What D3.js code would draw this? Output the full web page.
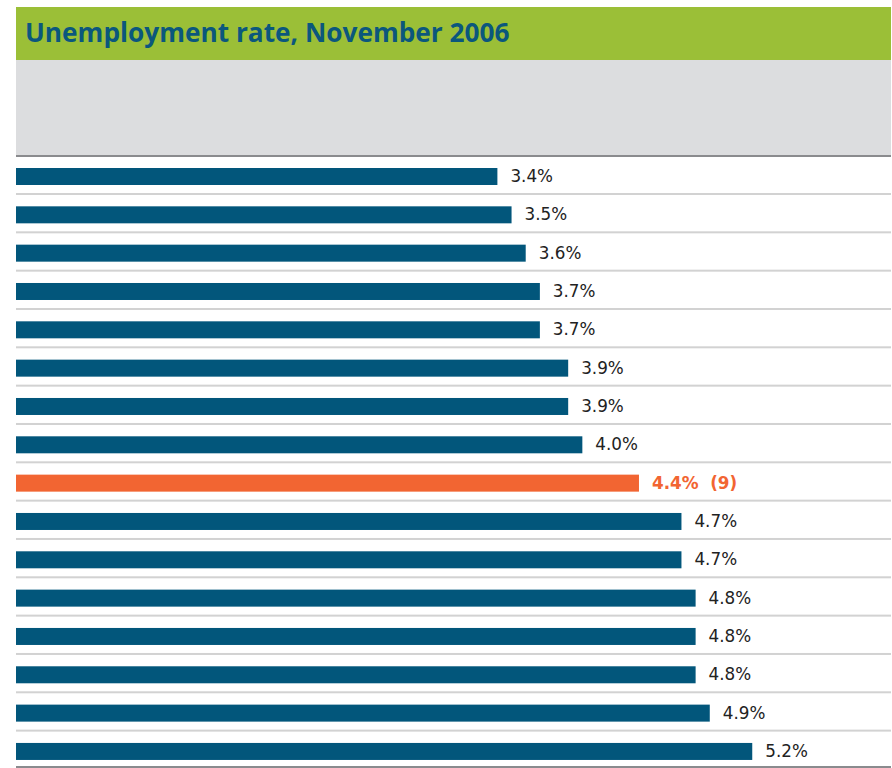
<!DOCTYPE html>
<html>
<head>
<meta charset="utf-8">
<script src="https://cdn.jsdelivr.net/npm/d3@7"></script>
<style>
  html, body { margin: 0; padding: 0; background: #ffffff; }
  svg { display: block; }
</style>
</head>
<body>
<svg id="chart" width="892" height="768"></svg>
<script>
// Unemployment rate by area, November 2006 (sorted ascending)
const title = "Unemployment rate, November 2006";
const rates = [3.4, 3.5, 3.6, 3.7, 3.7, 3.9, 3.9, 4.0, 4.4, 4.7, 4.7, 4.8, 4.8, 4.8, 4.9, 5.2];
const ranks = [1, 2, 3, 4, 5, 6, 7, 8, 9, 10, 11, 12, 13, 14, 15, 16];
const highlightRank = 9;

const plotLeft = 16, plotRight = 891;
const plotTop = 157, rowStep = 38.33;

const svg = d3.select("#chart");

// Header band and grey key area
svg.append("rect").attr("x", plotLeft).attr("y", 7).attr("width", plotRight - plotLeft).attr("height", 53).attr("fill", "#9bbf37");
svg.append("rect").attr("x", plotLeft).attr("y", 60).attr("width", plotRight - plotLeft).attr("height", 95).attr("fill", "#dcdddf");
svg.append("rect").attr("x", plotLeft).attr("y", 155).attr("width", plotRight - plotLeft).attr("height", 2).attr("fill", "#8a8b8e");

const titleText = svg.append("text")
  .attr("x", 25).attr("y", 42)
  .attr("font-family", "'Open Sans', sans-serif")
  .attr("font-weight", 700)
  .attr("font-size", 26)
  .attr("fill", "#0b577d")
  .text(title);
// fit title to its intended width
const tw = titleText.node().getComputedTextLength();
titleText.attr("font-size", 26 * 485 / tw);

const x = d3.scaleLinear().domain([0, 6.18]).range([plotLeft, plotRight]);
const y = d3.scaleBand().domain(ranks).range([plotTop, plotTop + rowStep * ranks.length]);
const last = ranks[ranks.length - 1];

const rows = svg.append("g").selectAll("g").data(ranks).join("g")
  .attr("transform", d => `translate(0,${y(d)})`);

// light separator under each row; the last row closes with a dark rule
rows.append("rect")
  .attr("x", plotLeft).attr("width", plotRight - plotLeft)
  .attr("y", d => d === last ? 766 - y(d) : 36)
  .attr("height", 2)
  .attr("fill", d => d === last ? "#8a8b8e" : "#d2d2d2");

rows.append("rect")
  .attr("x", plotLeft)
  .attr("y", 11)
  .attr("height", 17)
  .attr("width", (d, i) => x(rates[i]) - plotLeft)
  .attr("fill", d => d === highlightRank ? "#f26532" : "#02567b");

rows.append("text")
  .attr("x", (d, i) => x(rates[i]) + 13)
  .attr("y", 25)
  .attr("font-family", "'DejaVu Sans', sans-serif")
  .attr("font-size", 16.8)
  .attr("font-weight", d => d === highlightRank ? 700 : 400)
  .attr("fill", d => d === highlightRank ? "#f26532" : "#222222")
  .attr("xml:space", "preserve")
  .text((d, i) => d3.format(".1f")(rates[i]) + "%" + (d === highlightRank ? "  (" + d + ")" : ""));
</script>
</body>
</html>
